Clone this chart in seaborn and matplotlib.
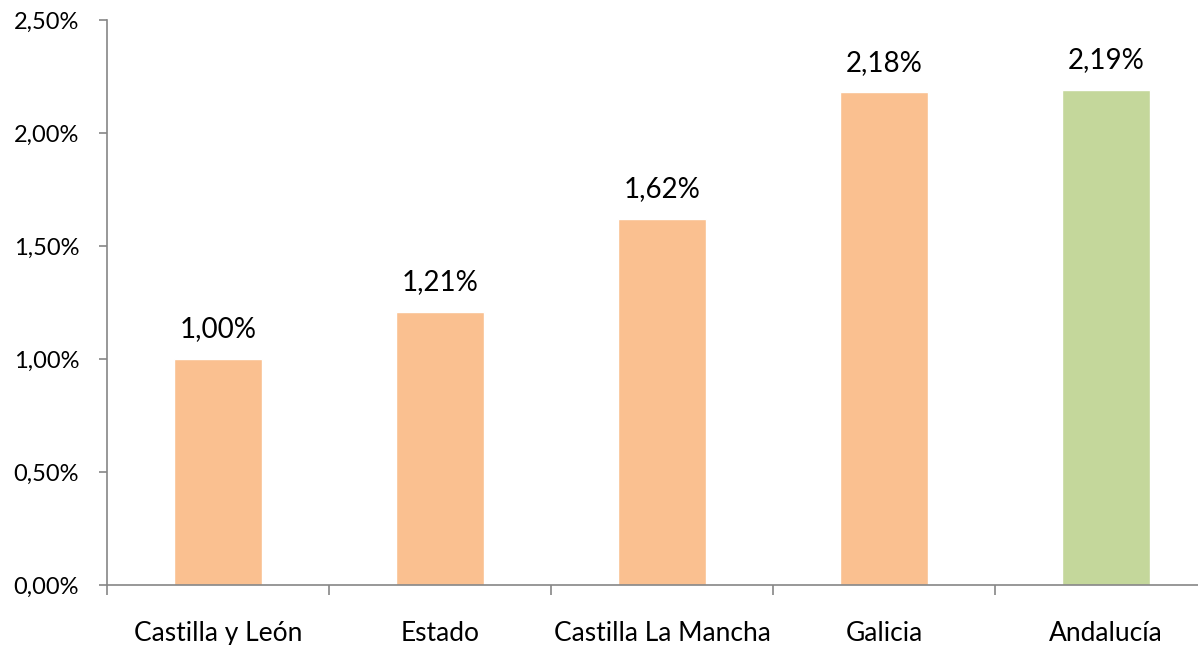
import matplotlib.pyplot as plt
import seaborn as sns
from matplotlib.ticker import FixedLocator

categories = ["Castilla y León", "Estado", "Castilla La Mancha", "Galicia", "Andalucía"]
values = [1.00, 1.21, 1.62, 2.18, 2.19]
bar_colors = ["#FAC090", "#FAC090", "#FAC090", "#FAC090", "#C4D79B"]
y_ticks = [0.0, 0.5, 1.0, 1.5, 2.0, 2.5]

sns.set_style("white")
plt.rcParams['font.family'] = ['Lato', 'DejaVu Sans']
plt.rcParams['text.color'] = 'black'
plt.rcParams['xtick.color'] = 'black'
plt.rcParams['ytick.color'] = 'black'

fig = plt.figure(figsize=(11.98, 6.45), dpi=100)
ax = fig.add_axes([107 / 1198, 60 / 645, 1110 / 1198, 565 / 645])

sns.barplot(x=categories, y=values, hue=categories, palette=bar_colors,
            width=0.4, legend=False, ax=ax, saturation=1)

ax.set_xlim(-0.5, 4.5)
ax.set_ylim(0, 2.5)
ax.set_yticks(y_ticks)
ax.set_yticklabels([f"{t:.2f}%".replace(".", ",") for t in y_ticks], fontsize=17)
ax.tick_params(axis="y", direction="out", length=6, color="#868686", width=1.2, pad=14, left=True,
               labelcolor="black")
ax.tick_params(axis="x", which="major", length=0, labelsize=19, pad=26, labelcolor="black")
ax.xaxis.set_minor_locator(FixedLocator([-0.5, 0.5, 1.5, 2.5, 3.5, 4.5]))
ax.tick_params(axis="x", which="minor", direction="out", length=7, color="#868686", width=1.2, bottom=True)

for side in ["top", "right"]:
    ax.spines[side].set_visible(False)
for side in ["left", "bottom"]:
    ax.spines[side].set_color("#868686")
    ax.spines[side].set_linewidth(1.2)

for container in ax.containers:
    ax.bar_label(container, labels=[f"{v:.2f}%".replace(".", ",") for v in container.datavalues],
                 padding=12, fontsize=20, color="black")

ax.set_xlabel("")
ax.set_ylabel("")
fig.savefig("out.png", dpi=100)
